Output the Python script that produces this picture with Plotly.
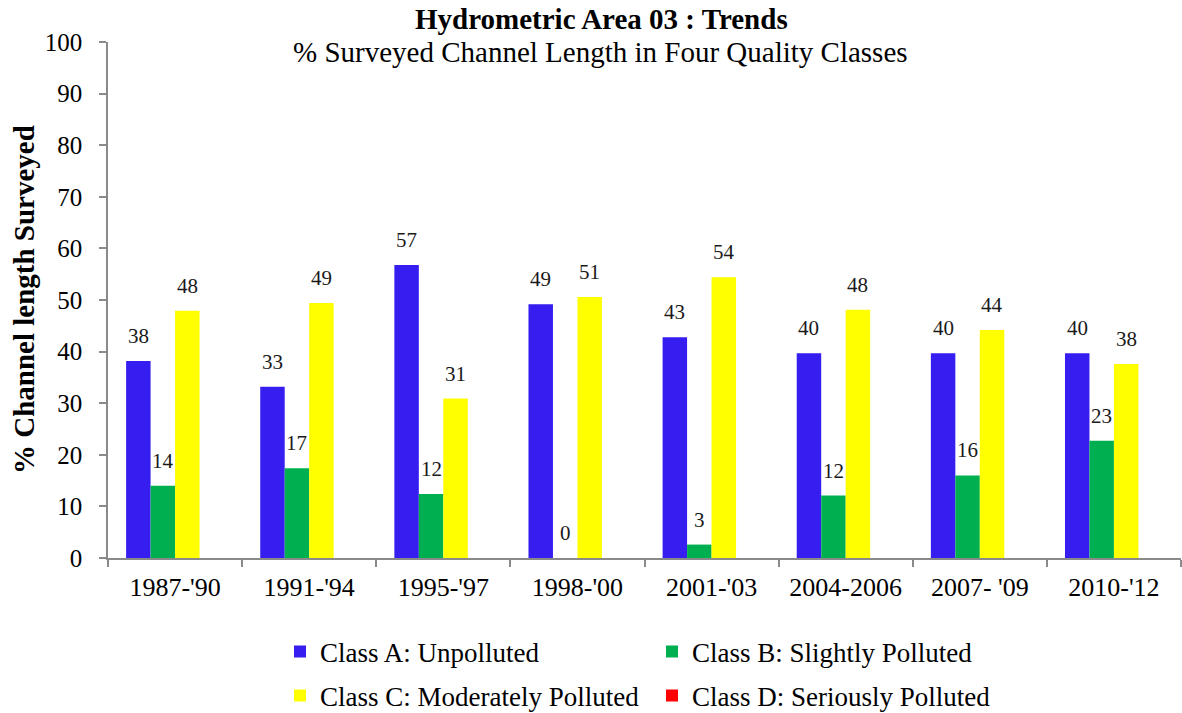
import plotly.graph_objects as go

categories = ["1987-'90", "1991-'94", "1995-'97", "1998-'00", "2001-'03", "2004-2006", "2007- '09", "2010-'12"]
class_a = [38.2, 33.2, 56.8, 49.2, 42.8, 39.7, 39.7, 39.7]
class_b = [14.0, 17.4, 12.4, 0.0, 2.6, 12.1, 16.0, 22.7]
class_c = [47.9, 49.4, 30.9, 50.6, 54.4, 48.1, 44.2, 37.6]
class_d = [None, None, None, None, None, None, None, None]

series_names = ["Class A: Unpolluted", "Class B: Slightly Polluted",
                "Class C: Moderately Polluted", "Class D: Seriously Polluted"]
series_values = [class_a, class_b, class_c, class_d]
colors = ["#361EF0", "#00B050", "#FFFF00", "#FF0000"]
legend_ids = ["legend", "legend", "legend2", "legend2"]

FONT = "Liberation Serif, Times New Roman, serif"
W, H = 1182, 713
ML, MR, MT, MB = 108, 1, 42, 155
PW = W - ML - MR
PH = H - MT - MB

fig = go.Figure()
for name, vals, col, lg in zip(series_names, series_values, colors, legend_ids):
    fig.add_trace(go.Bar(
        x=categories, y=vals, name=name, marker=dict(color=col, line=dict(width=0)),
        legend=lg,
    ))

bargap = 0.27
bw = (1 - bargap) / 4
annotations = []
for si, vals in enumerate(series_values):
    for ci, v in enumerate(vals):
        if v is None:
            continue
        annotations.append(dict(
            x=ci + (si - 1.5) * bw, y=v, xref="x", yref="y",
            text=f"{v:.0f}", showarrow=False, yanchor="bottom", xanchor="center",
            yshift=11, font=dict(family=FONT, size=21, color="#1a1a1a"),
        ))

def px_x(p):
    return (p - ML) / PW

def px_y(p):
    return (H - MB - p) / PH

annotations.append(dict(x=px_x(601), y=px_y(19), xref="paper", yref="paper",
                        text="<b>Hydrometric Area 03 : Trends</b>", showarrow=False,
                        xanchor="center", yanchor="middle",
                        font=dict(family=FONT, size=29, color="black")))
annotations.append(dict(x=px_x(600), y=px_y(52), xref="paper", yref="paper",
                        text="% Surveyed Channel Length in Four Quality Classes", showarrow=False,
                        xanchor="center", yanchor="middle",
                        font=dict(family=FONT, size=29, color="black")))
annotations.append(dict(x=px_x(24), y=px_y(300), xref="paper", yref="paper",
                        text="<b>% Channel length Surveyed</b>", showarrow=False, textangle=-90,
                        xanchor="center", yanchor="middle",
                        font=dict(family=FONT, size=29, color="black")))

legend_common = dict(orientation="h", xref="container", yref="container",
                     xanchor="left", yanchor="middle", entrywidth=327,
                     font=dict(family=FONT, size=27, color="black"), itemwidth=30,
                     bgcolor="rgba(0,0,0,0)")

fig.update_layout(
    width=W, height=H,
    margin=dict(l=ML, r=MR, t=MT, b=MB),
    paper_bgcolor="white", plot_bgcolor="white",
    barmode="group", bargap=bargap, bargroupgap=0,
    font=dict(family=FONT, size=24, color="black"),
    annotations=annotations,
    showlegend=True,
    legend=dict(x=280 / W, y=1 - 652 / H, **legend_common),
    legend2=dict(x=280 / W, y=1 - 696 / H, **legend_common),
    xaxis=dict(type="category", showline=True, linecolor="#8a8a8a", linewidth=1.5,
               ticks="outside", tickson="boundaries", ticklen=7, tickcolor="#8a8a8a", tickwidth=1.5,
               tickfont=dict(family=FONT, size=26, color="black"), ticklabelstandoff=5,
               showgrid=False, zeroline=False),
    yaxis=dict(range=[0, 100], dtick=10, showline=True, linecolor="#8a8a8a", linewidth=1.5,
               ticks="outside", ticklen=7, tickcolor="#8a8a8a", tickwidth=1.5,
               tickfont=dict(family=FONT, size=25, color="black"), ticklabelstandoff=12,
               showgrid=False, zeroline=False),
)

fig.write_html("out.html", config={"displayModeBar": False},
               post_script="document.body.style.margin='0';document.body.style.overflow='hidden';")
